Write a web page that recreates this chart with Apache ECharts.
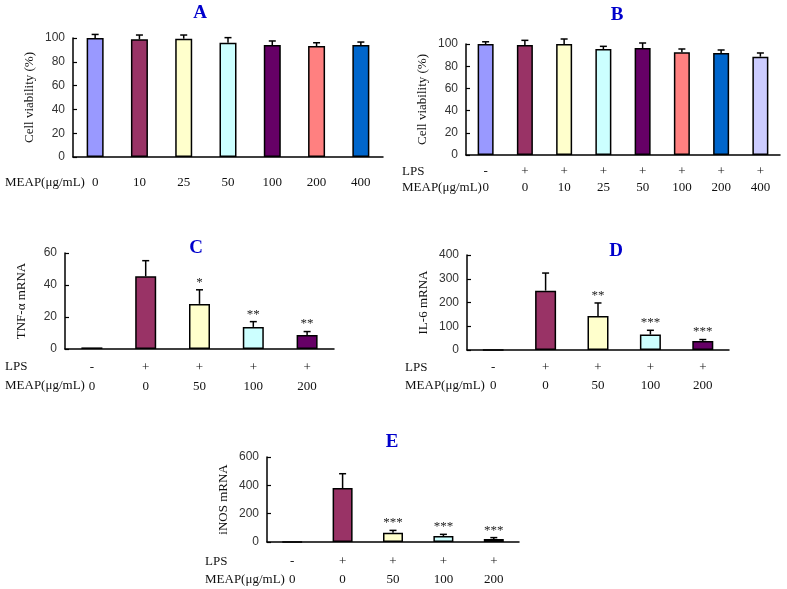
<!DOCTYPE html>
<html>
<head>
<meta charset="utf-8">
<script src="https://cdn.jsdelivr.net/npm/echarts@6/dist/echarts.min.js"></script>
<style>
  html, body { margin: 0; padding: 0; background: #fff; }
  #chart { width: 787px; height: 589px; }
</style>
</head>
<body>
<div id="chart"></div>
<script>
// panel A - cell viability, MEAP only
const dosesA = ['0', '10', '25', '50', '100', '200', '400']
const viabA = [100, 98.9, 99.4, 96, 94.1, 93.3, 94.1]
const errA = [3, 3.6, 3.1, 4.3, 3.4, 2.7, 2.5]

// panel B - cell viability with LPS
const lpsB = ['-', '+', '+', '+', '+', '+', '+', '+']
const dosesB = ['0', '0', '10', '25', '50', '100', '200', '400']
const viabB = [100, 99.1, 100, 95.5, 96.4, 92.5, 91.9, 88.6]
const errB = [2, 4.2, 4.5, 2.4, 4.5, 3, 2.7, 3.3]

// panels C, D, E share groups
const lpsCDE = ['-', '+', '+', '+', '+']
const dosesCDE = ['0', '0', '50', '100', '200']

const tnfC = [1, 45.4, 28.2, 13.8, 8.8]
const tnfErrC = [0, 9.8, 8.8, 3.3, 2.1]
const tnfStars = ['', '', '*', '**', '**']

const il6D = [1, 250, 143, 65, 38]
const il6ErrD = [0, 74, 55, 18, 6]
const il6Stars = ['', '', '**', '***', '***']

const inosE = [1, 381, 66, 42, 21]
const inosErrE = [0, 101, 16, 12, 10]
const inosStars = ['', '', '***', '***', '***']

const colorsA = ['#9999ff', '#993366', '#ffffcc', '#ccffff', '#660066', '#ff8080', '#0066cc']
const colorsB = ['#9999ff', '#993366', '#ffffcc', '#ccffff', '#660066', '#ff8080', '#0066cc', '#ccccff']
const colorsCDE = ['#9999ff', '#993366', '#ffffcc', '#ccffff', '#660066']

const serif = '"Liberation Serif", "Times New Roman", serif'
const sans = '"Liberation Sans", Arial, sans-serif'

let myChart = echarts.init(document.getElementById('chart'))

const grids = [
    { left: 73, top: 38, width: 310, height: 119 },
    { left: 466, top: 44, width: 314, height: 111 },
    { left: 65, top: 253, width: 269, height: 96 },
    { left: 467, top: 255, width: 262, height: 95 },
    { left: 267, top: 457, width: 252, height: 85 }
]

function xAxisOf(idx, labels, margin, lineHeight) {
    return {
        type: 'category',
        gridIndex: idx,
        data: labels,
        axisLine: { lineStyle: { color: '#000', width: 1.5 } },
        axisTick: { inside: true, length: 4, lineStyle: { color: '#000', width: 1.2 } },
        axisLabel: {
            margin: margin,
            fontFamily: serif,
            fontSize: 13,
            color: '#111',
            lineHeight: lineHeight,
            interval: 0
        }
    }
}

function yAxisOf(idx, name, max, interval) {
    return {
        type: 'value',
        gridIndex: idx,
        min: 0,
        max: max,
        interval: interval,
        name: name,
        nameLocation: 'middle',
        nameGap: 37,
        nameTextStyle: { fontFamily: serif, fontSize: 13, color: '#111' },
        axisLine: { show: true, lineStyle: { color: '#000', width: 1.5 } },
        axisTick: { show: true, inside: true, length: 4, lineStyle: { color: '#000', width: 1.2 } },
        axisLabel: { fontFamily: sans, fontSize: 12, color: '#333', margin: 8 },
        splitLine: { show: false }
    }
}

function barSeries(idx, values, colors, width) {
    return {
        type: 'bar',
        xAxisIndex: idx,
        yAxisIndex: idx,
        barWidth: width,
        data: values.map((v, i) => ({
            value: v,
            itemStyle: { color: colors[i], borderColor: '#000', borderWidth: 1.5 }
        })),
        z: 2
    }
}

// 误差线 + 显著性星号
function errSeries(idx, values, errs, stars) {
    return {
        type: 'custom',
        xAxisIndex: idx,
        yAxisIndex: idx,
        data: values.map((v, i) => [i, v, errs[i]]),
        z: 3,
        renderItem: function (params, api) {
            const x = api.value(0), m = api.value(1), e = api.value(2)
            const base = api.coord([x, m])
            const top = api.coord([x, m + e])
            const children = []
            if (e > 0) {
                children.push({
                    type: 'line',
                    shape: { x1: base[0], y1: base[1], x2: top[0], y2: top[1] },
                    style: { stroke: '#000', lineWidth: 1.5 }
                })
                children.push({
                    type: 'line',
                    shape: { x1: top[0] - 3.5, y1: top[1], x2: top[0] + 3.5, y2: top[1] },
                    style: { stroke: '#000', lineWidth: 1.5 }
                })
            }
            const s = stars ? stars[params.dataIndex] : ''
            if (s) {
                children.push({
                    type: 'text',
                    style: {
                        text: s, x: top[0], y: top[1] - 1,
                        align: 'center', verticalAlign: 'bottom',
                        font: '13px ' + serif, fill: '#222'
                    }
                })
            }
            return { type: 'group', children: children }
        }
    }
}

function txt(text, x, y, opt) {
    return {
        type: 'text',
        style: Object.assign({
            text: text, x: x, y: y,
            font: '13px ' + serif, fill: '#111',
            verticalAlign: 'middle'
        }, opt || {})
    }
}

function title(text, x, y) {
    return txt(text, x, y, {
        font: 'bold 19px ' + serif, fill: '#0000cc', align: 'center'
    })
}

const pair = (lps, doses) => doses.map((d, i) => lps[i] + '\n' + d)

let option = {
    animation: false,
    grid: grids,
    xAxis: [
        xAxisOf(0, dosesA, 19, 14),
        xAxisOf(1, pair(lpsB, dosesB), 9, 16),
        xAxisOf(2, pair(lpsCDE, dosesCDE), 9, 19),
        xAxisOf(3, pair(lpsCDE, dosesCDE), 9, 18),
        xAxisOf(4, pair(lpsCDE, dosesCDE), 11, 18)
    ],
    yAxis: [
        yAxisOf(0, 'Cell viability (%)', 100, 20),
        yAxisOf(1, 'Cell viability (%)', 100, 20),
        yAxisOf(2, 'TNF-α mRNA', 60, 20),
        yAxisOf(3, 'IL-6 mRNA', 400, 100),
        yAxisOf(4, 'iNOS mRNA', 600, 200)
    ],
    series: [
        barSeries(0, viabA, colorsA, 17),
        errSeries(0, viabA, errA, null),
        barSeries(1, viabB, colorsB, 16),
        errSeries(1, viabB, errB, null),
        barSeries(2, tnfC, colorsCDE, 21),
        errSeries(2, tnfC, tnfErrC, tnfStars),
        barSeries(3, il6D, colorsCDE, 21),
        errSeries(3, il6D, il6ErrD, il6Stars),
        barSeries(4, inosE, colorsCDE, 20),
        errSeries(4, inosE, inosErrE, inosStars)
    ],
    graphic: [
        title('A', 200, 13),
        title('B', 617, 15),
        title('C', 196, 248),
        title('D', 616, 251),
        title('E', 392, 442),
        txt('MEAP(μg/mL)', 5, 183),
        txt('LPS', 402, 172),
        txt('MEAP(μg/mL)', 402, 188),
        txt('LPS', 5, 367),
        txt('MEAP(μg/mL)', 5, 386),
        txt('LPS', 405, 368),
        txt('MEAP(μg/mL)', 405, 386),
        txt('LPS', 205, 562),
        txt('MEAP(μg/mL)', 205, 580)
    ]
}
myChart.setOption(option)
window.addEventListener('resize', () => {
    if (myChart) {
        myChart.resize()
    }
})
</script>
</body>
</html>
